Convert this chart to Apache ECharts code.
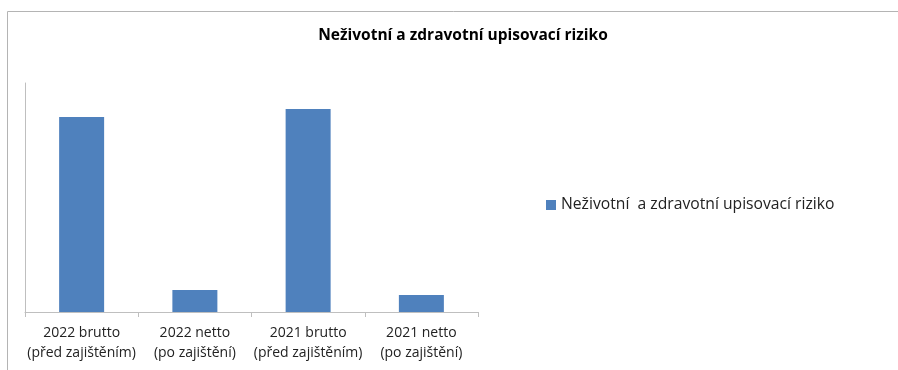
<!DOCTYPE html>
<html>
<head>
<meta charset="utf-8">
<script src="https://cdn.jsdelivr.net/npm/echarts@6/dist/echarts.min.js"></script>
<style>
  html, body { margin: 0; padding: 0; background: #fff; }
  #chart { width: 898px; height: 370px; }
</style>
</head>
<body>
<div id="chart"></div>
<script>
var categories = [
  '2022 brutto\n(před zajištěním)',
  '2022 netto\n(po zajištění)',
  '2021 brutto\n(před zajištěním)',
  '2021 netto\n(po zajištění)'
]
var values = [8.52, 0.96, 8.87, 0.74]
var seriesName = 'Neživotní  a zdravotní upisovací riziko'
var titleText = 'Neživotní a zdravotní upisovací riziko'

var font = '"Open Sans", "Liberation Sans", sans-serif'
var myChart = echarts.init(document.getElementById('chart'))

var option = {
  animation: false,
  title: {
    text: titleText,
    left: 458,
    textAlign: 'center',
    top: 23,
    textStyle: { fontFamily: font, fontSize: 15.5, fontWeight: 'bold', color: '#000' }
  },
  legend: {
    data: [seriesName],
    left: 541,
    top: 192,
    itemWidth: 10,
    itemHeight: 10,
    itemGap: 5,
    icon: 'rect',
    textStyle: { fontFamily: font, fontSize: 15.7, color: '#222' }
  },
  grid: { left: 25, right: 420, top: 83, bottom: 58 },
  xAxis: {
    type: 'category',
    data: categories,
    axisLine: { lineStyle: { color: '#bfbfbf' } },
    axisTick: { show: true, length: 5, lineStyle: { color: '#bfbfbf' } },
    axisLabel: { fontFamily: font, fontSize: 14, color: '#222', lineHeight: 20, margin: 11, interval: 0 }
  },
  yAxis: {
    type: 'value',
    min: 0,
    max: 10,
    axisLine: { show: true, lineStyle: { color: '#bfbfbf' } },
    axisTick: { show: false },
    axisLabel: { show: false },
    splitLine: { show: false }
  },
  graphic: [{
    type: 'rect',
    shape: { x: 7.5, y: 11.5, width: 1000, height: 1000 },
    style: { fill: 'none', stroke: '#b4b4b4', lineWidth: 1 },
    silent: true
  }],
  series: [{
    name: seriesName,
    type: 'bar',
    data: values,
    barWidth: 45,
    itemStyle: { color: '#4f81bd' }
  }]
}

myChart.setOption(option)
</script>
</body>
</html>
